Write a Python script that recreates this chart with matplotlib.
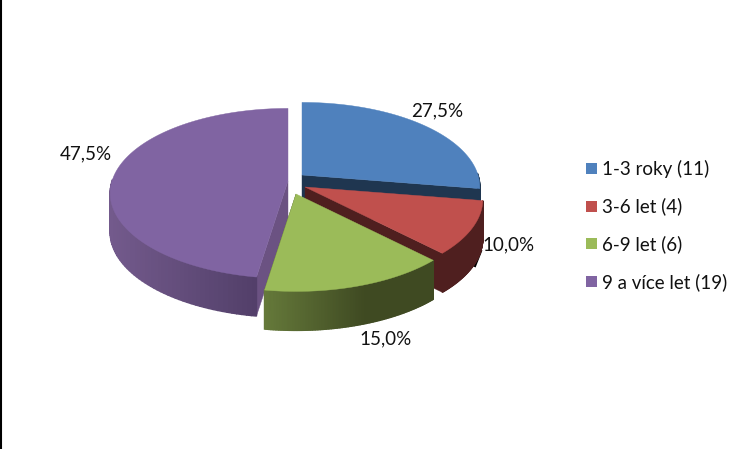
import numpy as np
import matplotlib
matplotlib.use("Agg")
import matplotlib.pyplot as plt
from matplotlib.colors import to_rgb
from matplotlib.patches import Polygon, Rectangle

categories = ["1-3 roky (11)", "3-6 let (4)", "6-9 let (6)", "9 a více let (19)"]
counts = [11, 4, 6, 19]
pct_labels = ["27,5%", "10,0%", "15,0%", "47,5%"]

face_colors = ["#4f81bd", "#c0504d", "#9bbb59", "#8064a2"]
side_left = ["#1f3650", "#4f1f1f", "#65793a", "#735a8c"]
side_right = ["#1f3650", "#4f1f1f", "#3f4a22", "#523f69"]
radial_colors = ["#1f3650", "#4f1f1f", "#3f4a22", "#6b5282"]

# where each exploded slice sits, pixels
centers = [(302, 175), (305, 187), (296, 194), (288, 181)]
label_pos = [(437, 111), (508, 245), (386, 339), (86, 154)]
legend_y = [168.5, 206, 243.5, 281.5]

RX, RY, DEPTH, PERSP = 176, 85, 39, 0.146

plt.rcParams["font.family"] = ["Lato", "DejaVu Sans"]

fig = plt.figure(figsize=(7.5, 4.49), dpi=100)
ax = fig.add_axes([0, 0, 1, 1])
ax.set_xlim(0, 750)
ax.set_ylim(449, 0)
ax.axis("off")


def rim(center, angle):
    # angle in radians, clockwise from top, v points to the viewer
    u, v = np.sin(angle), -np.cos(angle)
    s = 1 + PERSP * v
    return np.column_stack([center[0] + RX * u * s, center[1] + RY * v * s])


edges = np.cumsum([0] + counts) / sum(counts) * 2 * np.pi
down = np.array([0, DEPTH])

# leader line of the 10,0% label, sits behind the red wall
ax.plot([481, 475], [251, 266], color="black", lw=1.6, zorder=0.5)

# back to front so the nearer slices cover the others
for i in [3, 0, 1, 2]:
    c = centers[i]
    a0, a1 = edges[i], edges[i + 1]
    arc_a = np.linspace(a0, a1, 120)
    top = rim(c, arc_a)
    apex = np.array(c, dtype=float)

    # the cut wall that faces the viewer
    p = rim(c, np.array([a0 if i == 3 else a1]))[0]
    ax.add_patch(Polygon([apex, p, p + down, apex + down], closed=True,
                         fc=radial_colors[i], ec=radial_colors[i], lw=0.3))

    # outer wall, only the front part shows
    xs = top[-np.cos(arc_a) >= -0.02]
    left, right = np.array(to_rgb(side_left[i])), np.array(to_rgb(side_right[i]))
    if len(xs) > 1:
        xmin, xmax = xs[:, 0].min(), xs[:, 0].max()
        for p, q in zip(xs[:-1], xs[1:]):
            t = ((p[0] + q[0]) / 2 - xmin) / max(xmax - xmin, 1)
            t = min(t * 1.7, 1) if i == 2 else t
            col = left + (right - left) * t
            ax.add_patch(Polygon([p, q, q + down, p + down], closed=True, fc=col, ec=col, lw=1))

    ax.add_patch(Polygon(np.vstack([apex, top]), closed=True, fc=face_colors[i], ec=face_colors[i], lw=0.3))

for (x, y), txt in zip(label_pos, pct_labels):
    ax.text(x, y, txt, ha="center", va="center", fontsize=13.5, color="#111111")

for y, col, name in zip(legend_y, face_colors, categories):
    ax.add_patch(Rectangle((585.5, y - 5.5), 11, 11, fc=col, ec="none"))
    ax.text(602, y + 0.5, name, ha="left", va="center", fontsize=13.5, color="#111111")

# frame remnant on the left edge
ax.plot([0.8, 0.8], [0, 449], color="black", lw=1.5)

fig.savefig("out.png", dpi=100)
